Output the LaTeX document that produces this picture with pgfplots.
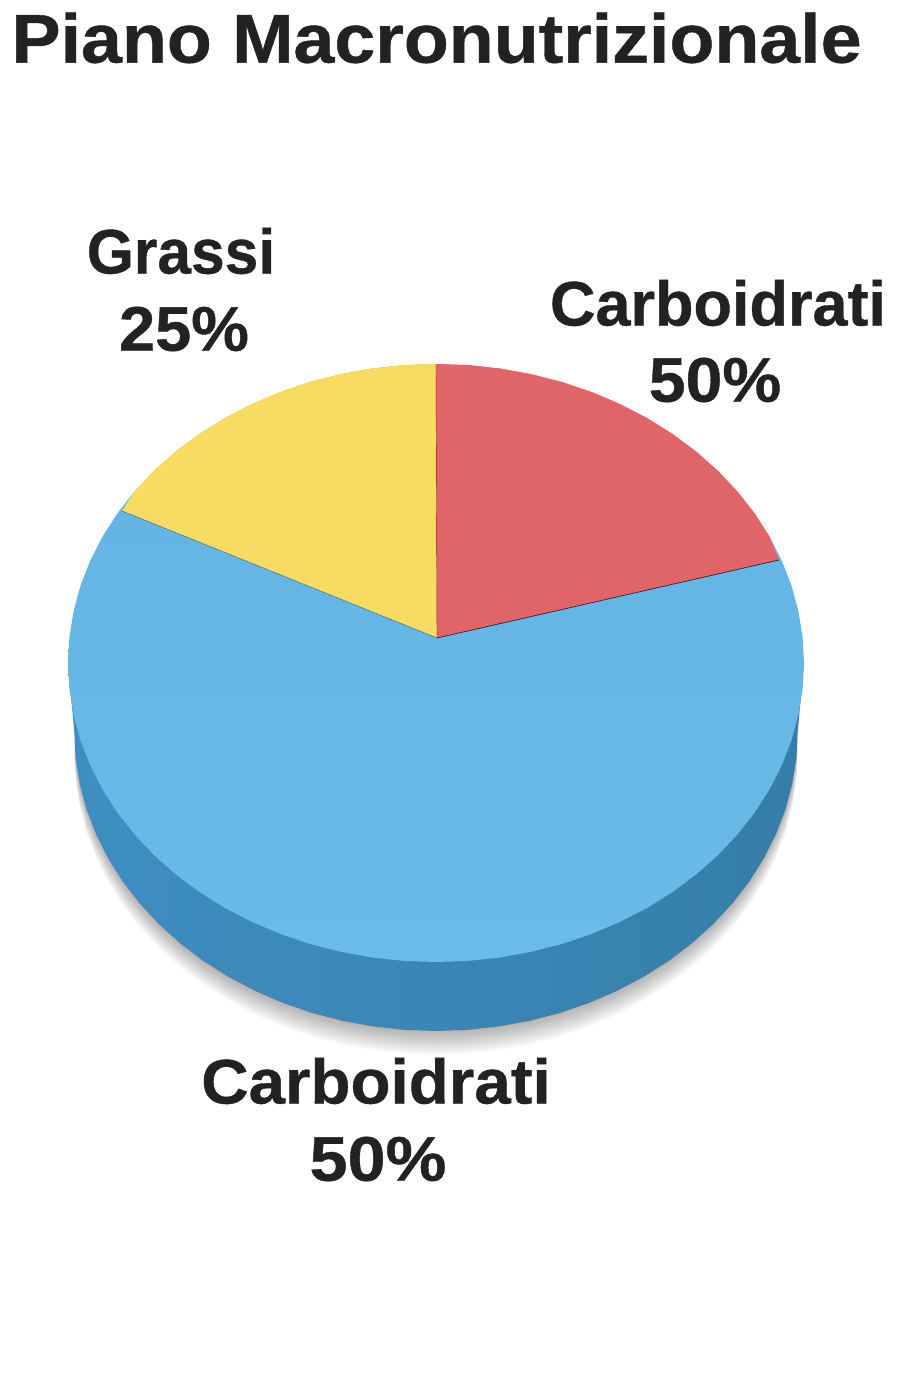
\documentclass[border=0pt]{standalone}
\usepackage{fontspec}
\setmainfont{Liberation Sans}[BoldFeatures={FakeBold=0.6}]
\usepackage{graphicx}
\usepackage{pgfplots}
\usepackage{pgfplotstable}
\pgfplotsset{compat=1.18}
\definecolor{ink}{HTML}{222222}
\definecolor{redS}{HTML}{E06568}
\definecolor{yelS}{HTML}{F8DB63}
\definecolor{bluT}{HTML}{62B3E3}
\definecolor{bluB}{HTML}{6BBBE8}
\definecolor{sideL}{HTML}{3F8EC3}
\definecolor{sideR}{HTML}{357EA9}
\pgfplotstableread{
x y
804 663
802.6 689.1
798.4 714.9
791.5 740.4
781.8 765.3
769.5 789.4
754.7 812.5
737.4 834.5
717.9 855.2
696.2 874.4
672.6 892
647.1 907.9
620 921.9
591.5 934
561.9 944
531.2 951.8
499.9 957.5
468.1 960.9
436 962
403.9 960.9
372.1 957.5
340.8 951.8
310.1 944
280.5 934
252 921.9
224.9 907.9
199.4 892
175.8 874.4
154.1 855.2
134.6 834.5
117.3 812.5
102.5 789.4
90.2 765.3
80.5 740.4
73.6 714.9
69.4 689.1
68 663
69.4 636.9
73.6 611.1
80.5 585.6
90.2 560.7
102.5 536.6
117.3 513.5
134.6 491.5
154.1 470.8
175.8 451.6
199.4 434
224.9 418.1
252 404.1
280.5 392
310.1 382
340.8 374.2
372.1 368.5
403.9 365.1
436 364
468.1 365.1
499.9 368.5
531.2 374.2
561.9 382
591.5 392
620 404.1
647.1 418.1
672.6 434
696.2 451.6
717.9 470.8
737.4 491.5
754.7 513.5
769.5 536.6
781.8 560.7
791.5 585.6
798.4 611.1
802.6 636.9
}\topface
\pgfplotstableread{
x y
804 663
797.7 732
796.4 758.1
792.2 783.9
785.5 809.4
775.9 834.3
763.8 858.4
749.3 881.5
732.3 903.5
713.1 924.2
691.8 943.4
668.6 961
643.5 976.9
616.9 990.9
588.9 1003
559.8 1013
529.6 1020.8
498.8 1026.5
467.6 1029.9
436 1031
404.4 1029.9
373.2 1026.5
342.4 1020.8
312.2 1013
283.1 1003
255.1 990.9
228.5 976.9
203.4 961
180.2 943.4
158.9 924.2
139.7 903.5
122.7 881.5
108.2 858.4
96.1 834.3
86.5 809.4
79.8 783.9
75.6 758.1
74.3 732
68 663
}\sideface
\pgfplotstableread{
x y
797.7 732
796.4 758.1
792.2 783.9
785.5 809.4
775.9 834.3
763.8 858.4
749.3 881.5
732.3 903.5
713.1 924.2
691.8 943.4
668.6 961
643.5 976.9
616.9 990.9
588.9 1003
559.8 1013
529.6 1020.8
498.8 1026.5
467.6 1029.9
436 1031
404.4 1029.9
373.2 1026.5
342.4 1020.8
312.2 1013
283.1 1003
255.1 990.9
228.5 976.9
203.4 961
180.2 943.4
158.9 924.2
139.7 903.5
122.7 881.5
108.2 858.4
96.1 834.3
86.5 809.4
79.8 783.9
75.6 758.1
74.3 732
}\shadowface
\pgfplotstableread{
x y
437 638
436 364
468.1 365.1
499.9 368.5
531.2 374.2
561.9 382
591.5 392
620 404.1
647.1 418.1
672.6 434
696.2 451.6
717.9 470.8
737.4 491.5
754.7 513.5
769.5 536.6
779 560
}\redslice
\pgfplotstableread{
x y
437 638
122 511
134.6 491.5
154.1 470.8
175.8 451.6
199.4 434
224.9 418.1
252 404.1
280.5 392
310.1 382
340.8 374.2
372.1 368.5
403.9 365.1
436 364
}\yelslice
\begin{document}
\begin{tikzpicture}
\useasboundingbox (0,0) rectangle (921pt,1382pt);
\begin{axis}[
  at={(0,0)}, anchor=south west,
  scale only axis, width=921pt, height=1382pt,
  xmin=0, xmax=921, ymin=0, ymax=1382, y dir=reverse,
  hide axis, clip=false,
  every axis plot/.append style={forget plot},
]
% soft shadow
\pgfplotsinvokeforeach{2,4,6,8,10,12,14,16,18,20,22,24,26,28}{
  \addplot[draw=none, fill=black, fill opacity=0.022]
    table[x=x, y expr={\thisrow{y}+#1*0.85}] {\shadowface} --cycle;
}
\addplot[draw=none, left color=sideL, right color=sideR] table[x=x,y=y] {\sideface} --cycle;
\addplot[draw=none, top color=bluT, bottom color=bluB] table[x=x,y=y] {\topface} --cycle;
\addplot[draw=none, fill=redS] table[x=x,y=y] {\redslice} --cycle;
\addplot[draw=none, fill=yelS] table[x=x,y=y] {\yelslice} --cycle;
\addplot[color=black!45!red, line width=0.7pt] coordinates {(437,638) (779,560)};
\addplot[color=black!35!red, line width=0.4pt] coordinates {(436,364) (437,638)};
\addplot[color=black!55!yelS, line width=0.5pt] coordinates {(122,511) (437,638)};
\node[anchor=west, text=ink, font=\fontsize{69}{72}\selectfont\bfseries] at (axis cs:8,38) {\scalebox{1.066}[1]{Piano Macronutrizionale}};
\node[text=ink, font=\fontsize{63}{66}\selectfont\bfseries] at (axis cs:181,251) {\scalebox{.96}[1]{Grassi}};
\node[text=ink, font=\fontsize{63}{66}\selectfont\bfseries] at (axis cs:184,329) {\scalebox{1.03}[1]{25\%}};
\node[text=ink, font=\fontsize{63}{66}\selectfont\bfseries] at (axis cs:718,303) {Carboidrati};
\node[text=ink, font=\fontsize{63}{66}\selectfont\bfseries] at (axis cs:715,380) {\scalebox{1.05}[1]{50\%}};
\node[text=ink, font=\fontsize{63}{66}\selectfont\bfseries] at (axis cs:376,1081) {\scalebox{1.04}[1]{Carboidrati}};
\node[text=ink, font=\fontsize{63}{66}\selectfont\bfseries] at (axis cs:378,1159) {\scalebox{1.085}[1]{50\%}};
\end{axis}
\end{tikzpicture}
\end{document}
